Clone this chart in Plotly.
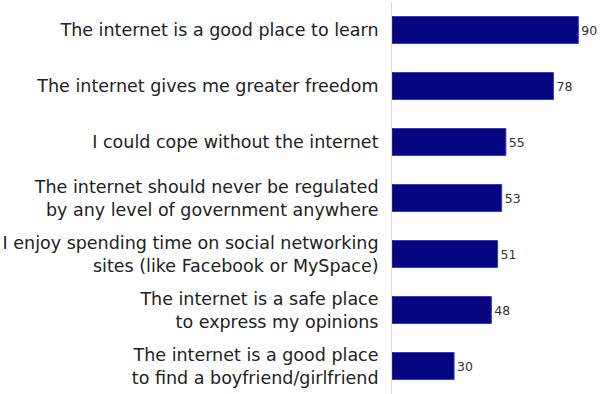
import plotly.graph_objects as go

statements = [
    "The internet is a good place to learn",
    "The internet gives me greater freedom",
    "I could cope without the internet",
    "The internet should never be regulated<br>by any level of government anywhere",
    "I enjoy spending time on social networking<br>sites (like Facebook or MySpace)",
    "The internet is a safe place<br>to express my opinions",
    "The internet is a good place<br>to find a boyfriend/girlfriend",
]
agree_pct = [90, 78, 55, 53, 51, 48, 30]

label_font = "DejaVu Sans, sans-serif"

fig = go.Figure(
    go.Bar(
        x=agree_pct,
        y=statements,
        orientation="h",
        marker=dict(color="#05057f", line=dict(color="#3a3ab0", width=1)),
        text=[str(v) for v in agree_pct],
        textposition="outside",
        textfont=dict(family=label_font, size=12.5, color="#333333"),
        cliponaxis=False,
        width=0.48,
    )
)

fig.update_layout(
    width=601,
    height=394,
    margin=dict(l=392, r=2, t=2, b=0),
    paper_bgcolor="white",
    plot_bgcolor="white",
    showlegend=False,
    font=dict(family=label_font, size=17.5, color="#222222"),
)
fig.update_xaxes(range=[0, 100], visible=False, showgrid=False)
fig.update_yaxes(
    autorange="reversed",
    showgrid=False,
    showline=True,
    linecolor="#d8d8d8",
    linewidth=1,
    ticks="",
    ticklabelstandoff=9,
    tickfont=dict(family=label_font, size=17.5, color="#222222"),
)

fig.write_html("out.html")
